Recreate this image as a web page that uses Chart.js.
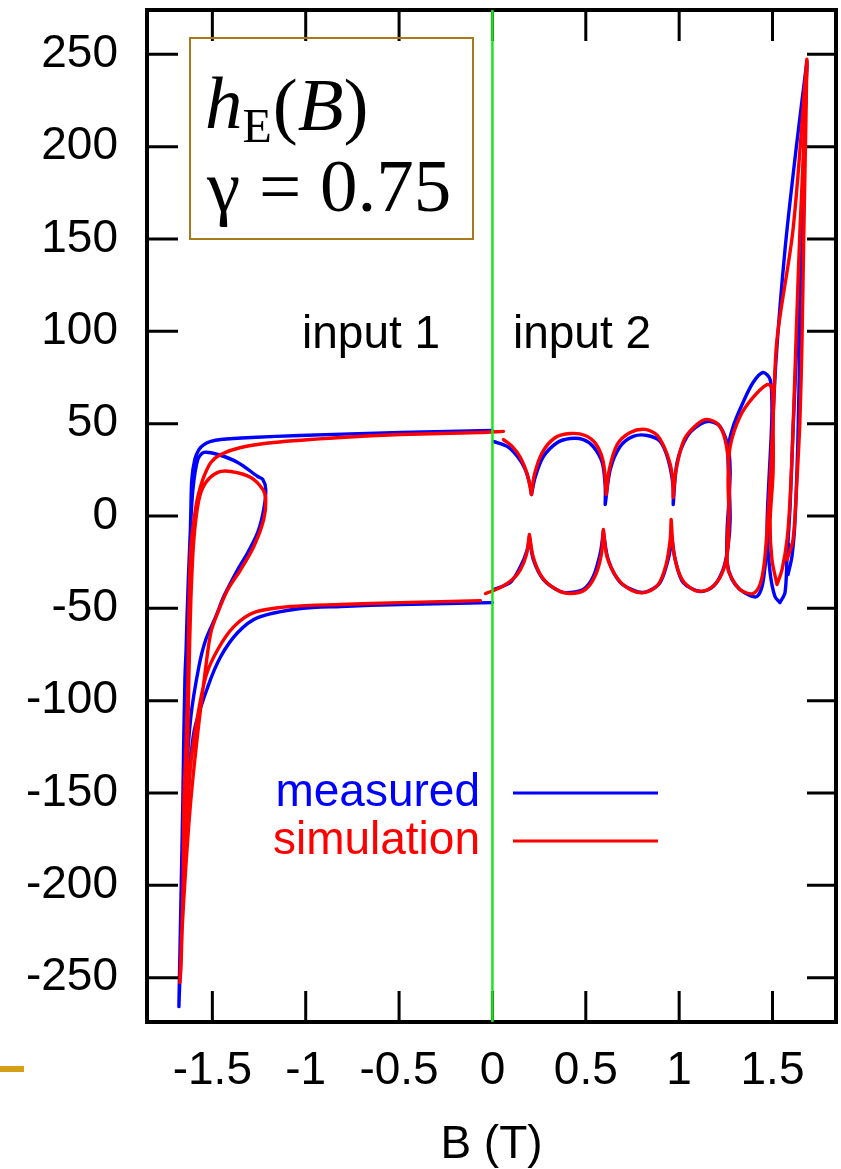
<!DOCTYPE html>
<html>
<head>
<meta charset="utf-8">
<title>h_E(B), γ = 0.75</title>
<script src="https://cdn.jsdelivr.net/npm/chart.js@4/dist/chart.umd.min.js"></script>
<style>
  body { margin: 0; background: #fff; }
  .page { position: relative; width: 841px; height: 1169px; }
  .bullet { position: absolute; left: 0; top: 1066px; width: 24px; height: 6px; background: #d4a017; }
</style>
</head>
<body>
<div class="page">
  <canvas id="loops" width="841" height="1169"></canvas>
  <div class="bullet"></div>
</div>
<script>
// [B (T), h] pairs, traced along each run in drawing order

// input 1, measured: upper branch -> tip -> minor loop -> tip -> lower branch
const measuredInput1 = [
  [0, 46.3], [-0.49, 45.2], [-1.03, 43.6], [-1.29, 42.5], [-1.455, 41.4], [-1.508, 40.4],
  [-1.545, 38.7], [-1.572, 36.0], [-1.594, 30.6], [-1.610, 19.8], [-1.615, 3.5], [-1.620, -16.5],
  [-1.631, -52.3], [-1.647, -88.6], [-1.658, -153.6], [-1.668, -207.7], [-1.679, -265.7],
  [-1.668, -224], [-1.658, -189.9], [-1.642, -144.4], [-1.615, -108.6], [-1.572, -81.5],
  [-1.535, -66.9], [-1.481, -54.4], [-1.439, -43.6], [-1.364, -29.0], [-1.310, -19.8],
  [-1.257, -8.9], [-1.225, 3.5], [-1.214, 14.4], [-1.230, 19.8], [-1.257, 21.4], [-1.364, 29.0],
  [-1.471, 33.3], [-1.545, 34.4], [-1.578, 30.6], [-1.604, 14.4], [-1.620, -12.7], [-1.636, -56.1],
  [-1.647, -99.4], [-1.663, -180.7], [-1.679, -264.6],
  [-1.668, -234.8], [-1.658, -207.7], [-1.631, -153.6], [-1.599, -117.3], [-1.524, -92.4],
  [-1.455, -76.1], [-1.364, -63.1], [-1.257, -55.0], [-1.027, -50.1], [-0.813, -49.0],
  [-0.492, -47.9], [0, -46.9]
];

// input 1, simulation
const simInput1 = [
  [0.059, 45.8], [-0.064, 45.2], [-0.492, 44.1], [-0.813, 42.5], [-1.171, 39.8], [-1.348, 37.1],
  [-1.455, 33.3], [-1.508, 29.0], [-1.545, 21.4], [-1.572, 12.7], [-1.588, 5.1], [-1.615, -16.5],
  [-1.626, -52.3], [-1.631, -88.6], [-1.642, -126.5], [-1.652, -153.6], [-1.658, -207.7], [-1.674, -252.7],
  [-1.663, -225.6], [-1.642, -189.9], [-1.615, -153.6], [-1.578, -117.3], [-1.535, -81.5],
  [-1.508, -63.1], [-1.471, -52.3], [-1.417, -39.8], [-1.348, -29.0], [-1.278, -16.5],
  [-1.225, -1.9], [-1.214, 8.9], [-1.230, 14.4], [-1.294, 20.9], [-1.401, 24.1], [-1.471, 23.6],
  [-1.535, 18.1], [-1.572, 8.9], [-1.599, -12.7], [-1.615, -45.2], [-1.626, -88.6],
  [-1.636, -142.7], [-1.652, -196.9], [-1.674, -252.7],
  [-1.668, -244.0], [-1.652, -189.9], [-1.626, -144.4], [-1.588, -114.0], [-1.535, -86.9],
  [-1.471, -72.3], [-1.385, -59.9], [-1.278, -52.3], [-1.080, -49.0], [-0.813, -47.9],
  [-0.492, -46.9], [-0.064, -45.8]
];

// input 2, measured: run starting on the positive side
const measuredInput2Upper = [
  [0.005, 40.4], [0.080, 37.6], [0.134, 32.2], [0.176, 25.2], [0.203, 16.0], [0.209, 11.6],
  [0.230, 21.4], [0.273, 32.2], [0.348, 39.8], [0.417, 42.0], [0.487, 41.4], [0.540, 37.6],
  [0.588, 29.0], [0.604, 16.0], [0.604, 6.2], [0.631, 25.2], [0.684, 37.6], [0.754, 43.1],
  [0.829, 43.6], [0.898, 40.4], [0.941, 30.6], [0.968, 16.0], [0.968, 6.2], [0.989, 29.0],
  [1.043, 43.1], [1.112, 49.6], [1.166, 51.2], [1.219, 48.5], [1.262, 37.6], [1.273, 25.2],
  [1.267, 8.9], [1.257, -7.3], [1.257, -25.2], [1.283, -34.4], [1.326, -39.8], [1.380, -43.1],
  [1.417, -43.6], [1.444, -38.2], [1.460, -27.4], [1.471, -12.7], [1.481, 8.9], [1.497, 41.4],
  [1.519, 84.8], [1.567, 144.4], [1.626, 198.5], [1.684, 246.2], [1.674, 221.8], [1.663, 149.8],
  [1.647, 95.6], [1.636, 41.4], [1.620, -3.5], [1.604, -21.9], [1.583, -31.7], [1.572, -23.6],
  [1.588, -15.4]
];

// input 2, measured: run starting on the negative side
const measuredInput2Lower = [
  [0.005, -39.8], [0.096, -36.0], [0.150, -27.4], [0.187, -18.1], [0.198, -11.1], [0.219, -23.6],
  [0.273, -34.4], [0.364, -40.9], [0.417, -41.4], [0.487, -39.8], [0.540, -32.8], [0.578, -19.8],
  [0.594, -8.4], [0.620, -23.6], [0.684, -36.0], [0.775, -40.9], [0.829, -40.9], [0.898, -36.0],
  [0.941, -23.6], [0.962, -12.7], [0.979, -23.6], [1.021, -36.0], [1.112, -40.9], [1.182, -38.2],
  [1.235, -29.0], [1.262, -16.5], [1.273, -1.9], [1.267, 19.8], [1.262, 36.0], [1.289, 48.5],
  [1.342, 61.5], [1.396, 72.3], [1.449, 77.7], [1.487, 74.0], [1.497, 59.3], [1.492, 41.4],
  [1.481, 19.8], [1.471, -7.3], [1.487, -30.6], [1.513, -43.6], [1.540, -46.9], [1.567, -41.4],
  [1.578, -21.9], [1.594, 5.1], [1.610, 46.9], [1.631, 95.6], [1.652, 149.8], [1.668, 198.5],
  [1.684, 244.6]
];

// input 2, simulation
const simInput2Upper = [
  [0.059, 41.4], [0.107, 37.6], [0.150, 31.7], [0.187, 22.5], [0.209, 11.6], [0.225, 22.5],
  [0.267, 34.4], [0.337, 42.5], [0.417, 44.7], [0.497, 43.6], [0.556, 38.7], [0.594, 29.0],
  [0.610, 11.6], [0.626, 25.2], [0.668, 38.7], [0.738, 45.2], [0.818, 46.9], [0.883, 43.6],
  [0.936, 33.3], [0.963, 22.5], [0.968, 10.0], [0.984, 25.2], [1.027, 41.4], [1.096, 49.6],
  [1.150, 52.3], [1.209, 49.6], [1.246, 41.4], [1.267, 25.2], [1.267, 3.5], [1.257, -15.4],
  [1.262, -29.0], [1.310, -38.2], [1.342, -40.9], [1.396, -42.0], [1.433, -37.1], [1.455, -26.3],
  [1.471, -7.3], [1.487, 19.8], [1.503, 52.3], [1.524, 95.6], [1.610, 155.2], [1.684, 247.3],
  [1.679, 214.8], [1.668, 155.2], [1.658, 95.6], [1.647, 52.3], [1.631, 19.8], [1.610, -12.7],
  [1.578, -23.6]
];

const simInput2Lower = [
  [-0.037, -42.0], [0.043, -38.7], [0.107, -34.4], [0.150, -29.0], [0.182, -20.9], [0.198, -10.0],
  [0.219, -22.5], [0.267, -33.3], [0.342, -39.8], [0.417, -42.0], [0.497, -39.8], [0.551, -32.2],
  [0.583, -20.9], [0.594, -7.3], [0.615, -22.5], [0.674, -34.4], [0.749, -40.4], [0.818, -41.4],
  [0.888, -37.1], [0.930, -26.3], [0.952, -12.7], [0.957, -1.9], [0.973, -20.9], [1.016, -34.4],
  [1.086, -40.4], [1.155, -39.8], [1.219, -33.3], [1.257, -20.9], [1.267, -1.9], [1.262, 19.8],
  [1.273, 37.6], [1.326, 53.9], [1.396, 64.2], [1.471, 71.2], [1.497, 69.6], [1.503, 50.6],
  [1.503, 23.6], [1.487, -3.5], [1.497, -23.6], [1.524, -37.1], [1.551, -29.0], [1.578, -12.7],
  [1.594, 8.9], [1.610, 46.9], [1.626, 95.6], [1.647, 155.2], [1.674, 214.8], [1.684, 246.2]
];

const bTicks = [-1.5, -1, -0.5, 0, 0.5, 1, 1.5];
const hTicks = [-250, -200, -150, -100, -50, 0, 50, 100, 150, 200, 250];
const bRange = [-1.85, 1.84];
const hRange = [-274, 274];
const dividerB = 0;   // boundary between input 1 and input 2

const legendItems = [
  { label: 'measured', color: '#0000ff' },
  { label: 'simulation', color: '#ff0000' }
];

const sans = '"Liberation Sans", Arial, Helvetica, sans-serif';
const serif = '"Liberation Serif", "Times New Roman", serif';

// Repeat a point where the trace doubles back (tips, cusps) so the
// spline keeps a sharp corner there instead of overshooting.
function keepCorners(pairs) {
  const out = [];
  pairs.forEach((p, i) => {
    out.push(p);
    const a = pairs[i - 1];
    const b = pairs[i + 1];
    if (!a || !b) return;
    const ux = (p[0] - a[0]) * 100, uy = p[1] - a[1];
    const vx = (b[0] - p[0]) * 100, vy = b[1] - p[1];
    const cos = (ux * vx + uy * vy) / (Math.hypot(ux, uy) * Math.hypot(vx, vy));
    if (cos < -0.3) out.push(p);
  });
  return out.map(([x, y]) => ({ x, y }));
}

function curve(pairs, color) {
  return {
    data: keepCorners(pairs),
    showLine: true,
    borderColor: color,
    borderWidth: 3.4,
    pointRadius: 0,
    tension: 0.3,
    borderJoinStyle: 'round',
    borderCapStyle: 'round',
    fill: false
  };
}

// simulation first so it paints over the measured traces
const datasets = [
  curve(simInput1, legendItems[1].color),
  curve(simInput2Upper, legendItems[1].color),
  curve(simInput2Lower, legendItems[1].color),
  curve(measuredInput1, legendItems[0].color),
  curve(measuredInput2Upper, legendItems[0].color),
  curve(measuredInput2Lower, legendItems[0].color)
];

const overlay = {
  id: 'overlay',
  afterDatasetsDraw(chart) {
    const { ctx, chartArea: a, scales: { x, y } } = chart;
    ctx.save();

    // frame with inward ticks on every side
    ctx.strokeStyle = '#000';
    ctx.lineWidth = 4;
    ctx.strokeRect(a.left, a.top, a.right - a.left, a.bottom - a.top);
    ctx.lineWidth = 3;
    ctx.beginPath();
    bTicks.forEach((v) => {
      const px = x.getPixelForValue(v);
      ctx.moveTo(px, a.bottom); ctx.lineTo(px, a.bottom - 31);
      ctx.moveTo(px, a.top); ctx.lineTo(px, a.top + 31);
    });
    hTicks.forEach((v) => {
      const py = y.getPixelForValue(v);
      ctx.moveTo(a.left, py); ctx.lineTo(a.left + 31, py);
      ctx.moveTo(a.right, py); ctx.lineTo(a.right - 29, py);
    });
    ctx.stroke();

    // B = 0 divider
    const gx = x.getPixelForValue(dividerB);
    ctx.strokeStyle = '#1ee61e';
    ctx.lineWidth = 2.5;
    ctx.beginPath();
    ctx.moveTo(gx, a.top);
    ctx.lineTo(gx, a.bottom);
    ctx.stroke();

    // run labels
    ctx.font = `46px ${sans}`;
    ctx.fillStyle = '#000';
    ctx.textBaseline = 'middle';
    ctx.textAlign = 'right';
    ctx.fillText('input 1', x.getPixelForValue(-0.28), y.getPixelForValue(98));
    ctx.textAlign = 'left';
    ctx.fillText('input 2', x.getPixelForValue(0.11), y.getPixelForValue(98));

    // legend: coloured label, then a sample line
    legendItems.forEach((item, i) => {
      const ly = 793 + i * 48;
      ctx.fillStyle = item.color;
      ctx.textAlign = 'right';
      ctx.fillText(item.label, 480, ly);
      ctx.strokeStyle = item.color;
      ctx.lineWidth = 3;
      ctx.beginPath();
      ctx.moveTo(513, ly);
      ctx.lineTo(658, ly);
      ctx.stroke();
    });

    // boxed formula
    ctx.strokeStyle = '#a8781c';
    ctx.lineWidth = 2;
    ctx.strokeRect(190, 38, 283, 201);
    ctx.fillStyle = '#000';
    ctx.textAlign = 'left';
    ctx.textBaseline = 'alphabetic';
    let cx = 205;
    ctx.font = `italic 75px ${serif}`;
    ctx.fillText('h', cx, 128);
    cx += ctx.measureText('h').width;
    ctx.font = `48px ${serif}`;
    ctx.fillText('E', cx, 142);
    cx += ctx.measureText('E').width + 1;
    ctx.font = `75px ${serif}`;
    ctx.fillText('(', cx, 130);
    cx += ctx.measureText('(').width;
    ctx.font = `italic 75px ${serif}`;
    ctx.fillText('B', cx, 130);
    cx += ctx.measureText('B').width;
    ctx.font = `75px ${serif}`;
    ctx.fillText(')', cx, 130);
    ctx.fillText('γ = 0.75', 207, 211);

    ctx.restore();
  }
};

new Chart(document.getElementById('loops'), {
  type: 'scatter',
  data: { datasets },
  options: {
    responsive: false,
    animation: false,
    devicePixelRatio: 1,
    events: [],
    layout: { padding: { top: 10, right: 5, left: 0, bottom: 0 } },
    plugins: { legend: { display: false }, tooltip: { enabled: false } },
    scales: {
      x: {
        type: 'linear',
        min: bRange[0],
        max: bRange[1],
        grid: { display: false, drawTicks: false },
        border: { display: false },
        afterBuildTicks: (s) => { s.ticks = bTicks.map((value) => ({ value })); },
        afterFit: (s) => { s.height = 147; s.paddingLeft = 0; s.paddingRight = 0; },
        ticks: {
          padding: 22,
          color: '#000',
          maxRotation: 0,
          font: { family: sans, size: 46, lineHeight: 1.2 },
          callback: (v) => String(v)
        },
        title: {
          display: true,
          text: 'B (T)',
          color: '#000',
          padding: { top: 0, bottom: 0 },
          font: { family: sans, size: 46, lineHeight: 1.05 }
        }
      },
      y: {
        type: 'linear',
        min: hRange[0],
        max: hRange[1],
        grid: { display: false, drawTicks: false },
        border: { display: false },
        afterBuildTicks: (s) => { s.ticks = hTicks.map((value) => ({ value })); },
        afterFit: (s) => { s.width = 147; s.paddingTop = 0; s.paddingBottom = 0; },
        ticks: {
          padding: 29,
          color: '#000',
          font: { family: sans, size: 46, lineHeight: 1.2 },
          callback: (v) => String(v)
        }
      }
    }
  },
  plugins: [overlay]
});
</script>
</body>
</html>
